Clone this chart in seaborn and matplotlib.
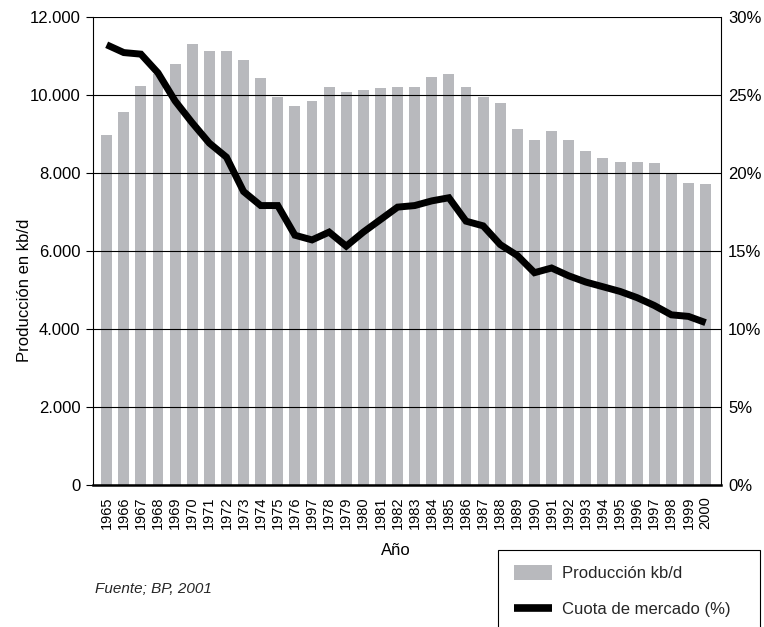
"""Producción de crudo y cuota de mercado, 1965-2000 (BP, 2001)."""

import matplotlib
matplotlib.use("Agg")
import matplotlib.pyplot as plt
from matplotlib.patches import Patch, Rectangle
from matplotlib.lines import Line2D
from matplotlib.ticker import FuncFormatter
import pandas as pd
import seaborn as sns

# tick labels as printed in the source (note the "1997" after 1976)
anios = ["1965", "1966", "1967", "1968", "1969", "1970", "1971", "1972",
         "1973", "1974", "1975", "1976", "1997", "1978", "1979", "1980",
         "1981", "1982", "1983", "1984", "1985", "1986", "1987", "1988",
         "1989", "1990", "1991", "1992", "1993", "1994", "1995", "1996",
         "1997", "1998", "1999", "2000"]

# production, kb/d
produccion = [8980, 9550, 10220, 10520, 10800, 11290, 11130, 11130,
              10900, 10440, 9950, 9700, 9830, 10210, 10080, 10130,
              10160, 10190, 10190, 10450, 10520, 10190, 9930, 9780,
              9110, 8850, 9060, 8830, 8550, 8370, 8270, 8270,
              8240, 7970, 7730, 7700]

# market share, %
cuota = [28.2, 27.7, 27.6, 26.4, 24.6, 23.2, 21.9, 21.0,
         18.8, 17.9, 17.9, 16.0, 15.7, 16.2, 15.3, 16.2,
         17.0, 17.8, 17.9, 18.2, 18.4, 16.9, 16.6, 15.4,
         14.7, 13.6, 13.9, 13.4, 13.0, 12.7, 12.4, 12.0,
         11.5, 10.9, 10.8, 10.4]

BAR_COLOR = "#b8b9bd"

sns.set_theme(style="white")
plt.rcParams["font.family"] = ["Liberation Sans", "DejaVu Sans"]

df = pd.DataFrame({"pos": range(len(anios)), "produccion": produccion, "cuota": cuota})

fig = plt.figure(figsize=(7.64, 6.27), dpi=100)
ax = fig.add_axes([0.1217, 0.2265, 0.822, 0.7469])

sns.barplot(data=df, x="pos", y="produccion", color=BAR_COLOR, saturation=1,
            width=0.64, linewidth=0, ax=ax)

ax2 = ax.twinx()
sns.lineplot(data=df, x="pos", y="cuota", color="black", linewidth=5,
             solid_joinstyle="miter", solid_capstyle="butt", ax=ax2)

ax.set_xlim(-0.8, len(anios) - 0.1)

# left axis
ax.set_ylim(0, 12000)
ax.set_yticks(range(0, 12001, 2000))
ax.yaxis.set_major_formatter(FuncFormatter(lambda v, _: f"{v:,.0f}".replace(",", ".")))
ax.tick_params(axis="y", left=True, length=5, width=0.8, color="black",
               labelsize=12, pad=4, labelcolor="black")
ax.set_xticks(range(len(anios)))
ax.set_xticklabels(anios, rotation=90)
ax.tick_params(axis="x", length=0, labelsize=10.5, pad=8, labelcolor="black")
ax.grid(axis="y", color="black", linewidth=0.8)
ax.set_axisbelow(False)

ax.set_ylabel("Producción en kb/d", fontsize=12, color="black")
ax.yaxis.set_label_coords(-0.097, 0.416)
ax.set_xlabel("Año", fontsize=12, color="black")
ax.xaxis.set_label_coords(0.482, -0.124)

# right axis
ax2.set_ylim(0, 30)
ax2.set_yticks(range(0, 31, 5))
ax2.yaxis.set_major_formatter(FuncFormatter(lambda v, _: f"{v:.0f}%"))
ax2.tick_params(axis="y", right=True, length=0, labelsize=12, pad=5, labelcolor="black")
ax2.set_ylabel("")
ax2.grid(False)

for name in ["top", "right"]:
    ax.spines[name].set_visible(False)
for name in ["top", "left", "bottom"]:
    ax2.spines[name].set_visible(False)
ax.spines["left"].set_color("black")
ax.spines["left"].set_linewidth(0.8)
ax.spines["bottom"].set_color("black")
ax.spines["bottom"].set_linewidth(1.8)
ax2.spines["right"].set_color("black")
ax2.spines["right"].set_linewidth(0.8)

# source note
fig.text(95 / 764, 1 - 589 / 627, "Fuente; BP, 2001", style="italic",
         fontsize=11, va="center", ha="left")

# legend, with a box that runs off the bottom edge
fig.add_artist(Rectangle((498 / 764, -0.05), (760 - 498) / 764, 0.05 + (627 - 550) / 627,
                         transform=fig.transFigure, fill=False,
                         edgecolor="black", linewidth=0.8))
handles = [Patch(facecolor=BAR_COLOR, edgecolor="none"),
           Line2D([0], [0], color="black", linewidth=5.5, solid_capstyle="butt")]
fig.legend(handles, ["Producción kb/d", "Cuota de mercado (%)"],
           loc="upper left", bbox_to_anchor=(514 / 764, 1 - 565 / 627),
           bbox_transform=fig.transFigure, frameon=False, fontsize=12,
           borderpad=0, borderaxespad=0, handlelength=2.28, handleheight=1.0,
           handletextpad=0.62, labelspacing=1.2)

fig.savefig("out.png", dpi=100)
